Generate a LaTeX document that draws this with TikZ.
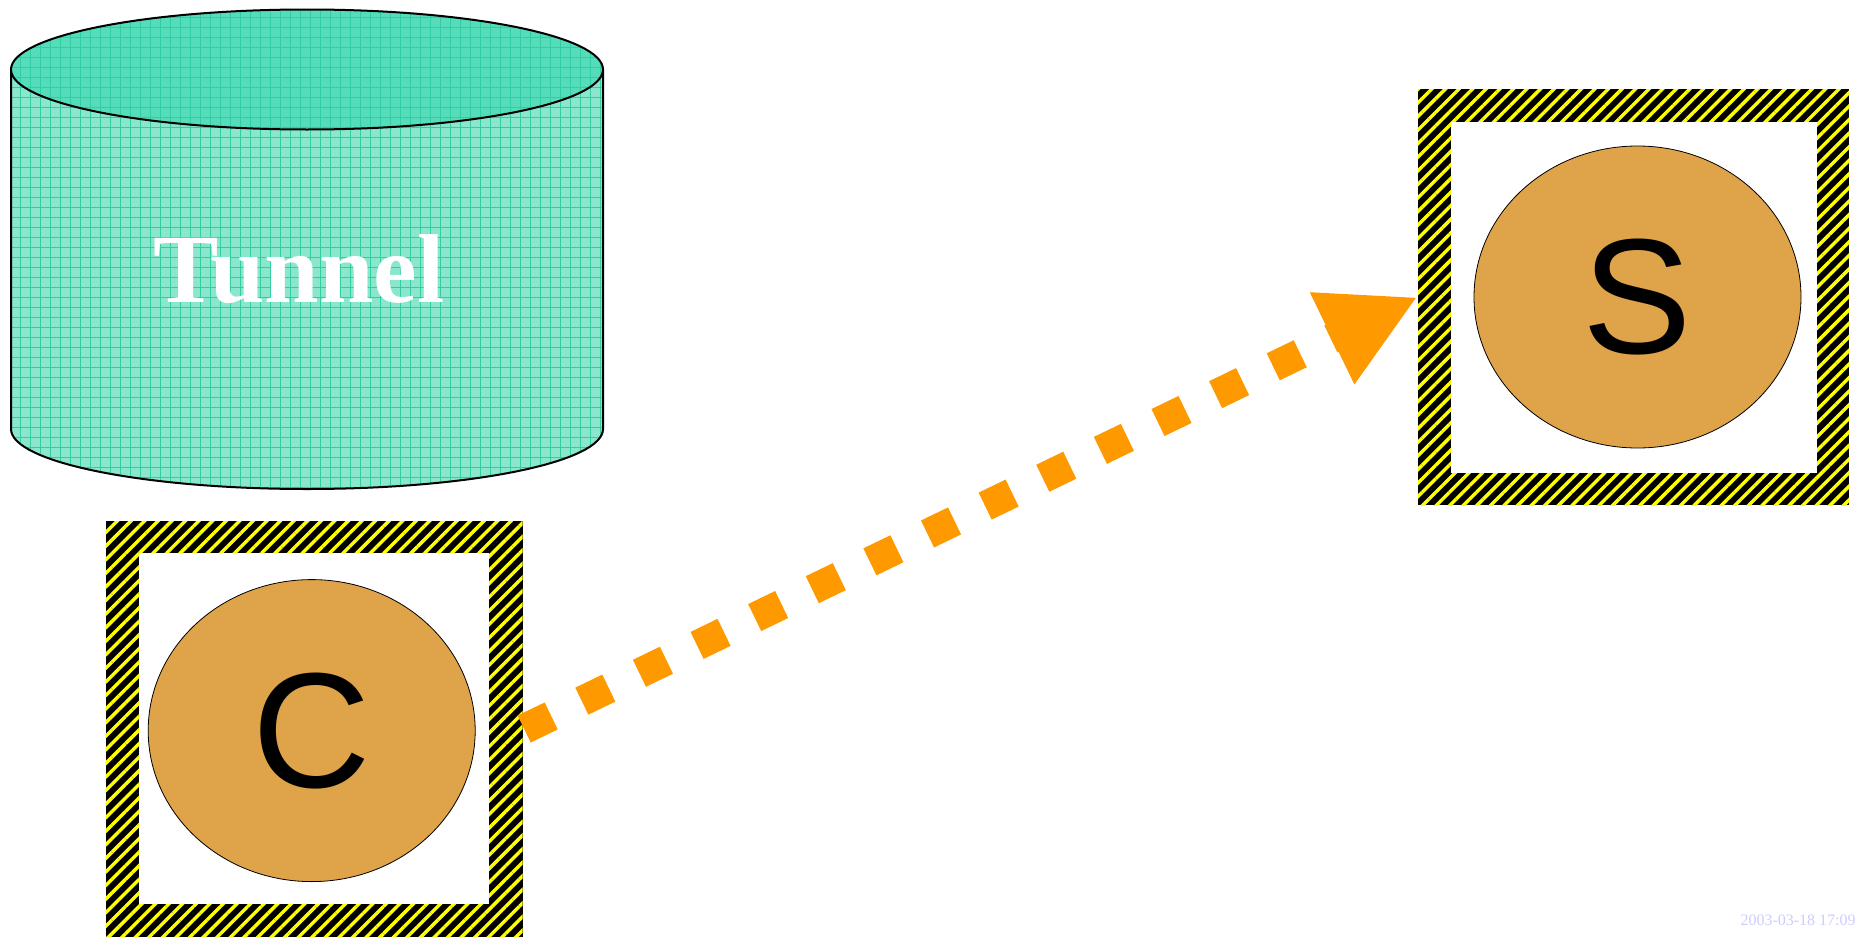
\documentclass[tikz,border=0pt]{standalone}
\usepackage{fontspec}
\setmainfont{Liberation Serif}
\newfontfamily\arial{Liberation Sans}
\usetikzlibrary{arrows.meta, patterns.meta, shapes.geometric, positioning}

\definecolor{tunneltop}{RGB}{85,221,187}
\definecolor{tunnelside}{RGB}{138,230,204}
\definecolor{gridgreen}{RGB}{50,206,160}
\definecolor{hostfill}{RGB}{223,163,74}
\definecolor{linkorange}{RGB}{255,153,0}
\definecolor{stampblue}{RGB}{204,204,255}

\begin{document}
\begin{tikzpicture}[x=0.5pt, y=-0.5pt,
  hazard/.style={rectangle, inner sep=0pt, preaction={fill=black},
    pattern={Lines[angle=45, distance=4.8pt, line width=1.7pt]}, pattern color=yellow},
  hole/.style={rectangle, inner sep=0pt, fill=white},
  host/.style={ellipse, inner sep=0pt, draw=black, line width=0.4pt, fill=hostfill,
    font=\arial\fontsize{82}{82}\selectfont, minimum width=163.5pt, minimum height=151pt},
  gridfill/.style={pattern={Hatch[angle=0, distance=5pt, line width=0.45pt]}, pattern color=gridgreen},
  link/.style={draw=linkorange, line width=15pt, dash pattern=on 15pt off 17pt,
    -{Triangle[length=47.5pt, width=47.5pt]}}]
\useasboundingbox (0,0) rectangle (1858,937);

%tunnel
  \path[preaction={fill=tunnelside}, gridfill, draw=black, line width=1pt]
    (11,69.5) -- (11,429) arc[start angle=180, end angle=0, x radius=296, y radius=60] -- (603,69.5);
  \path[preaction={fill=tunneltop}, gridfill, draw=black, line width=1pt]
    (307,69.5) ellipse [x radius=296, y radius=60];
  \node[font=\bfseries\fontsize{49}{49}\selectfont, text=white, anchor=base, inner sep=0pt] (tunnel) at (299,302) {Tunnel};

%client
  \node[hazard, minimum width=208.5pt, minimum height=208pt] (cbox) at (314,729) {};
  \node[hole, minimum width=175pt, minimum height=175.5pt] (chole) at (313.8,728.5) {};
  \node[host] (client) at (311.7,730.6) {C};

%server
  \node[hazard, minimum width=215.5pt, minimum height=208pt] (sbox) at (1633.5,297) {};
  \node[hole, minimum width=183pt, minimum height=175.5pt] (shole) at (1633.7,297) {};
  \node[host] (server) at (1637.5,297) {S};

%link
  \draw[link] (cbox.east) -- (sbox.west);

%stamp
  \node[font=\fontsize{8}{8}\selectfont, text=stampblue, anchor=base east, inner sep=0pt] (stamp) at (1856,925) {2003-03-18 17:09};
\end{tikzpicture}
\end{document}
